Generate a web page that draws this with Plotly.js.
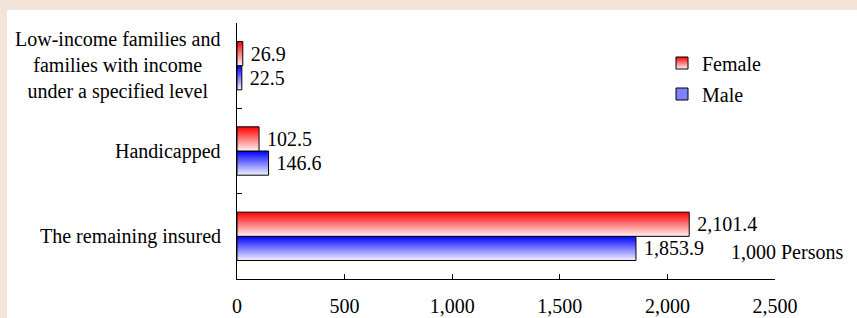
<!DOCTYPE html>
<html>
<head>
<meta charset="utf-8">
<script src="https://cdn.plot.ly/plotly-3.0.1.min.js"></script>
<style>
html,body{margin:0;padding:0;background:#fff;}
#chart{width:857px;height:318px;}
</style>
</head>
<body>
<div id="chart"></div>
<script>
// Categories, top to bottom as shown
const categories = [
  "Low-income families and<br>families with income<br>under a specified level",
  "Handicapped",
  "The remaining insured"
];
const femaleValues = [26.9, 102.5, 2101.4];
const maleValues = [22.5, 146.6, 1853.9];
const seriesNames = ["Female", "Male"];
const xTickValues = [0, 500, 1000, 1500, 2000, 2500];
const unitLabel = "1,000 Persons";

const FONT = "Liberation Serif, Times New Roman, serif";
const FS = 20;

const traceMale = {
  type: "bar", orientation: "h", name: seriesNames[1],
  y: categories, x: maleValues,
  marker: {color: "#8080ff", line: {color: "#000", width: 1}},
  text: maleValues, texttemplate: "\u00a0%{x:,.1f}", textposition: "outside",
  constraintext: "none", cliponaxis: false,
  textfont: {family: FONT, size: FS, color: "#000"},
  legend: "legend2", hoverinfo: "skip"
};
const traceFemale = {
  type: "bar", orientation: "h", name: seriesNames[0],
  y: categories, x: femaleValues,
  marker: {color: "#ff8080", line: {color: "#000", width: 1}},
  text: femaleValues, texttemplate: "\u00a0%{x:,.1f}", textposition: "outside",
  constraintext: "none", cliponaxis: false,
  textfont: {family: FONT, size: FS, color: "#000"},
  legend: "legend", hoverinfo: "skip"
};

const L = 237, R = 82, T = 23, B = 39, W = 857, H = 318;
const pw = W - L - R, ph = H - T - B;
const px2x = p => (p - L) / pw;
const py2y = p => (H - B - p) / ph;

const annotations = categories.map(c => ({
  xref: "paper", yref: "y", x: px2x(223), y: c,
  xanchor: "right", yanchor: "middle", align: "center",
  text: c, showarrow: false,
  font: {family: FONT, size: FS, color: "#000"}
}));
annotations.push({
  xref: "paper", yref: "paper", x: px2x(845), y: py2y(252),
  xanchor: "right", yanchor: "middle", text: unitLabel, showarrow: false,
  font: {family: FONT, size: FS, color: "#000"}
});

const layout = {
  width: W, height: H,
  margin: {l: L, r: R, t: T, b: B, pad: 0},
  paper_bgcolor: "#ffffff", plot_bgcolor: "rgba(0,0,0,0)",
  barmode: "group", bargap: 0.433, bargroupgap: 0,
  font: {family: FONT, size: FS, color: "#000"},
  xaxis: {
    range: [0, 2500], tickvals: xTickValues, tickformat: ",d",
    showgrid: false, zeroline: false, showline: true, linecolor: "#000", linewidth: 1,
    ticks: "inside", ticklen: 5, tickcolor: "#000", tickwidth: 1,
    ticklabelstandoff: 9,
    tickfont: {family: FONT, size: FS, color: "#000"}, fixedrange: true
  },
  yaxis: {
    type: "category", categoryorder: "array", categoryarray: categories.slice().reverse(),
    showticklabels: false, showgrid: false, zeroline: false,
    showline: true, linecolor: "#000", linewidth: 1,
    ticks: "inside", tickson: "boundaries", ticklen: 5, tickcolor: "#000", tickwidth: 1,
    fixedrange: true
  },
  showlegend: true,
  legend: {
    x: px2x(662), y: py2y(63), xanchor: "left", yanchor: "middle",
    bgcolor: "rgba(0,0,0,0)", font: {family: FONT, size: FS, color: "#000"}
  },
  legend2: {
    x: px2x(662), y: py2y(94), xanchor: "left", yanchor: "middle",
    bgcolor: "rgba(0,0,0,0)", font: {family: FONT, size: FS, color: "#000"}
  },
  annotations: annotations,
  shapes: [
    {type: "rect", xref: "paper", yref: "paper", layer: "below",
     x0: px2x(0), x1: px2x(W), y0: py2y(0), y1: py2y(10),
     fillcolor: "#F2E4D8", line: {width: 0}},
    {type: "rect", xref: "paper", yref: "paper", layer: "below",
     x0: px2x(0), x1: px2x(7), y0: py2y(0), y1: py2y(H),
     fillcolor: "#F2E4D8", line: {width: 0}}
  ]
};

Plotly.newPlot("chart", [traceMale, traceFemale], layout, {displayModeBar: false, staticPlot: true}).then(gd => {
  const svg = gd.querySelector("svg.main-svg");
  const NS = "http://www.w3.org/2000/svg";
  let defs = svg.querySelector("defs");
  if (!defs) { defs = document.createElementNS(NS, "defs"); svg.insertBefore(defs, svg.firstChild); }
  function grad(id, top, bottom) {
    const g = document.createElementNS(NS, "linearGradient");
    g.setAttribute("id", id);
    g.setAttribute("x1", "0"); g.setAttribute("y1", "0");
    g.setAttribute("x2", "0"); g.setAttribute("y2", "1");
    [[0, top], [1, bottom]].forEach(([o, c]) => {
      const s = document.createElementNS(NS, "stop");
      s.setAttribute("offset", o); s.setAttribute("stop-color", c);
      g.appendChild(s);
    });
    defs.appendChild(g);
  }
  grad("gradMale", "#0000ff", "#f4f4ff");
  grad("gradFemale", "#ff0000", "#fff4f4");
  const fills = ["url(#gradMale)", "url(#gradFemale)"];
  gd.querySelectorAll(".barlayer .trace").forEach((tr, i) => {
    tr.querySelectorAll("path").forEach(p => { p.style.fill = fills[i]; });
  });
  gd.querySelectorAll(".legend").forEach(lg => {
    const txt = lg.querySelector(".legendtext");
    const name = txt ? txt.textContent : "";
    lg.querySelectorAll(".legendpoints path").forEach(p => {
      p.style.fill = name === "Male" ? fills[0] : fills[1];
    });
  });
});
</script>
</body>
</html>
